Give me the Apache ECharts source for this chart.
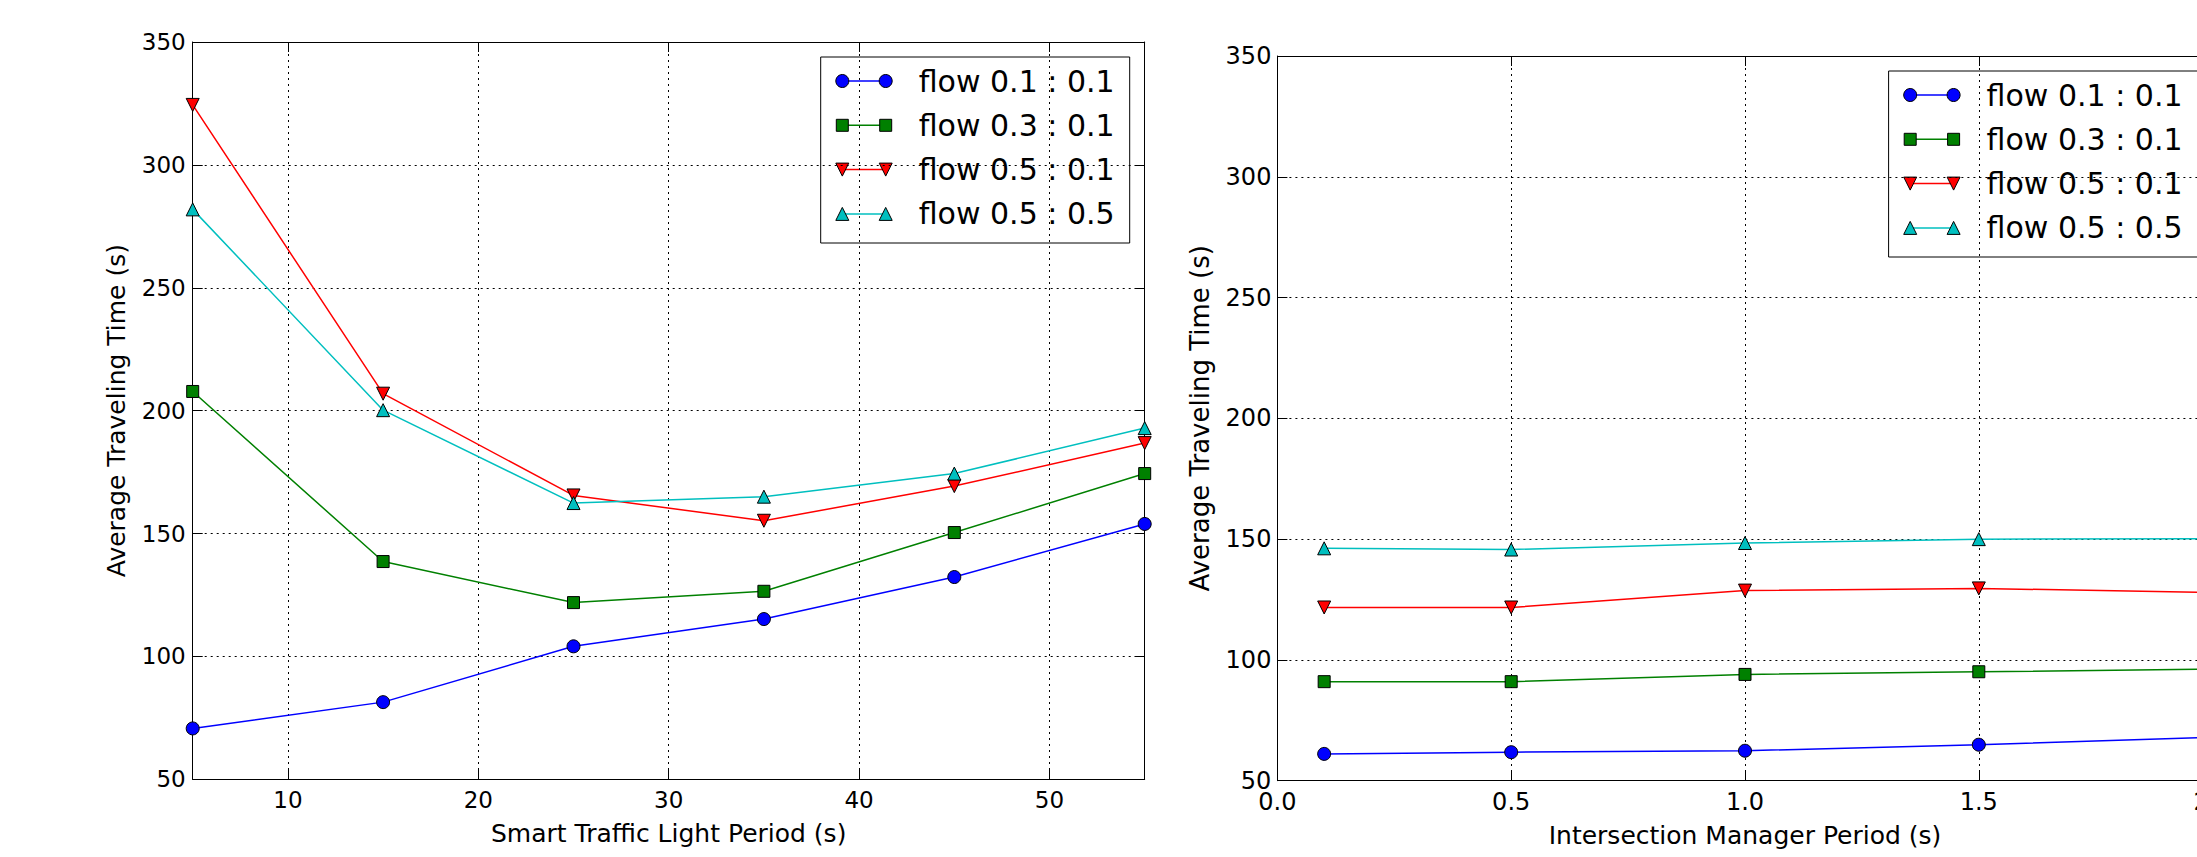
<!DOCTYPE html>
<html>
<head>
<meta charset="utf-8">
<script src="https://cdn.jsdelivr.net/npm/echarts@6/dist/echarts.min.js"></script>
<style>
html,body{margin:0;padding:0;background:#fff;}
#chart{width:2197px;height:857px;}
</style>
</head>
<body>
<div id="chart"></div>
<script>
// ---------- data ----------
const seriesNames = ['flow 0.1 : 0.1', 'flow 0.3 : 0.1', 'flow 0.5 : 0.1', 'flow 0.5 : 0.5'];

const leftPeriods = [5, 15, 25, 35, 45, 55];
const leftFlow11 = [70.7, 81.4, 104.1, 115.2, 132.3, 153.9];
const leftFlow31 = [207.8, 138.6, 121.9, 126.5, 150.4, 174.4];
const leftFlow51 = [324.4, 206.9, 165.5, 155.2, 169.3, 186.8];
const leftFlow55 = [281.9, 200.2, 162.4, 165.0, 174.4, 192.9];

const rightPeriods = [0.1, 0.5, 1.0, 1.5, 2.0];
const rightFlow11 = [61.1, 61.8, 62.4, 64.9, 68.0];
const rightFlow31 = [91.0, 91.0, 94.0, 95.1, 96.2];
const rightFlow51 = [121.7, 121.7, 128.7, 129.6, 127.9];
const rightFlow55 = [146.2, 145.7, 148.4, 150.0, 150.2];

const leftXName = 'Smart Traffic Light Period (s)';
const rightXName = 'Intersection Manager Period (s)';
const yName = 'Average Traveling Time (s)';

// ---------- styles ----------
const FONT = 'DejaVu Sans';
const styles = [
  {color: '#0000ff', symbol: 'circle', size: 13, rotate: 0},
  {color: '#008000', symbol: 'rect', size: 12, rotate: 0},
  {color: '#ff0000', symbol: 'triangle', size: 13, rotate: 180},
  {color: '#00bfbf', symbol: 'triangle', size: 13, rotate: 0}
];

const grids = [
  {left: 192.7, top: 42, width: 952, height: 737.3, outerBoundsMode: 'none', containLabel: false},
  {left: 1277.4, top: 56, width: 935.2, height: 724.7, outerBoundsMode: 'none', containLabel: false}
];

const gridLine = {show: true, lineStyle: {color: '#000', width: 1, type: [2, 4]}};
const axisLine = {show: true, onZero: false, lineStyle: {color: '#000', width: 1}};
const tick = {show: true, inside: true, length: 10, lineStyle: {color: '#000', width: 1}};

function xAxes(gi, min, max, name, fmt, interval) {
  const base = {gridIndex: gi, type: 'value', min: min, max: max};
  if (interval) base.interval = interval;
  return [
    Object.assign({}, base, {
      position: 'bottom', axisLine: axisLine, axisTick: tick,
      splitLine: gridLine,
      axisLabel: {fontFamily: FONT, fontSize: gi === 0 ? 23 : 24, color: '#000', margin: 9,
                  showMinLabel: gi !== 0, showMaxLabel: gi !== 0, formatter: fmt},
      name: name, nameLocation: 'middle', nameGap: 42,
      nameTextStyle: {fontFamily: FONT, fontSize: 25, color: '#000'}
    }),
    Object.assign({}, base, {
      position: 'top', axisLine: axisLine, axisTick: tick,
      splitLine: {show: false}, axisLabel: {show: false}
    })
  ];
}
function yAxes(gi) {
  const base = {gridIndex: gi, type: 'value', min: 50, max: 350, interval: 50};
  return [
    Object.assign({}, base, {
      position: 'left', axisLine: axisLine, axisTick: tick,
      splitLine: gridLine,
      axisLabel: {fontFamily: FONT, fontSize: gi === 0 ? 23 : 24, color: '#000', margin: gi === 0 ? 7 : 6},
      name: yName, nameLocation: 'middle', nameGap: 64,
      nameTextStyle: {fontFamily: FONT, fontSize: gi === 0 ? 25 : 26, color: '#000'}
    }),
    Object.assign({}, base, {
      position: 'right', axisLine: axisLine, axisTick: tick,
      splitLine: {show: false}, axisLabel: {show: false}
    })
  ];
}

function makeSeries(xs, ys, i, axisIdx) {
  const s = styles[i];
  return {
    type: 'line', name: seriesNames[i],
    xAxisIndex: axisIdx, yAxisIndex: axisIdx,
    data: xs.map((x, k) => [x, ys[k]]),
    symbol: s.symbol, symbolSize: s.size, symbolRotate: s.rotate,
    showSymbol: true, showAllSymbol: true,
    lineStyle: {color: s.color, width: 1.5},
    itemStyle: {color: s.color, borderColor: '#000', borderWidth: 1},
    emphasis: {disabled: true},
    z: 3 + i,
    clip: true
  };
}

const leftData = [leftFlow11, leftFlow31, leftFlow51, leftFlow55];
const rightData = [rightFlow11, rightFlow31, rightFlow51, rightFlow55];

const series = [];
leftData.forEach((ys, i) => series.push(makeSeries(leftPeriods, ys, i, 0)));
rightData.forEach((ys, i) => series.push(makeSeries(rightPeriods, ys, i, 2)));

// ---------- legend boxes (matplotlib style) ----------
function legendGroup(grid) {
  const boxW = 309, boxH = 186;
  const gx = grid.left + grid.width - 15 - boxW;
  const gy = grid.top + 15;
  const children = [{
    type: 'rect', shape: {x: 0, y: 0, width: boxW, height: boxH},
    style: {fill: '#fff', stroke: '#000', lineWidth: 1}
  }];
  seriesNames.forEach((nm, i) => {
    const s = styles[i];
    const cy = 24 + i * 44.3;
    const x1 = 21.6, x2 = 65;
    children.push({type: 'line', shape: {x1: x1, y1: cy, x2: x2, y2: cy},
                   style: {stroke: s.color, lineWidth: 1.5}});
    [x1, x2].forEach(cx => {
      const st = {fill: s.color, stroke: '#000', lineWidth: 1};
      if (s.symbol === 'circle') {
        children.push({type: 'circle', shape: {cx: cx, cy: cy, r: s.size / 2}, style: st});
      } else if (s.symbol === 'rect') {
        children.push({type: 'rect', shape: {x: cx - s.size / 2, y: cy - s.size / 2, width: s.size, height: s.size}, style: st});
      } else {
        const h = s.size / 2;
        const pts = s.rotate === 180
          ? [[cx - h, cy - h], [cx + h, cy - h], [cx, cy + h]]
          : [[cx - h, cy + h], [cx + h, cy + h], [cx, cy - h]];
        children.push({type: 'polygon', shape: {points: pts}, style: st});
      }
    });
    children.push({type: 'text', x: 98, y: cy,
                   style: {text: nm, fill: '#000', font: '30px "' + FONT + '"', textVerticalAlign: 'middle', verticalAlign: 'middle'}});
  });
  return {type: 'group', x: gx, y: gy, z: 100, children: children};
}

const fmt1 = v => v.toFixed(1);
const option = {
  animation: false,
  backgroundColor: '#fff',
  textStyle: {fontFamily: FONT},
  grid: grids,
  xAxis: [].concat(xAxes(0, 5, 55, leftXName, null, null), xAxes(1, 0, 2.0, rightXName, fmt1, 0.5)),
  yAxis: [].concat(yAxes(0), yAxes(1)),
  series: series,
  graphic: [legendGroup(grids[0]), legendGroup(grids[1])]
};

const chart = echarts.init(document.getElementById('chart'), null, {renderer: 'svg'});
chart.setOption(option);
</script>
</body>
</html>
